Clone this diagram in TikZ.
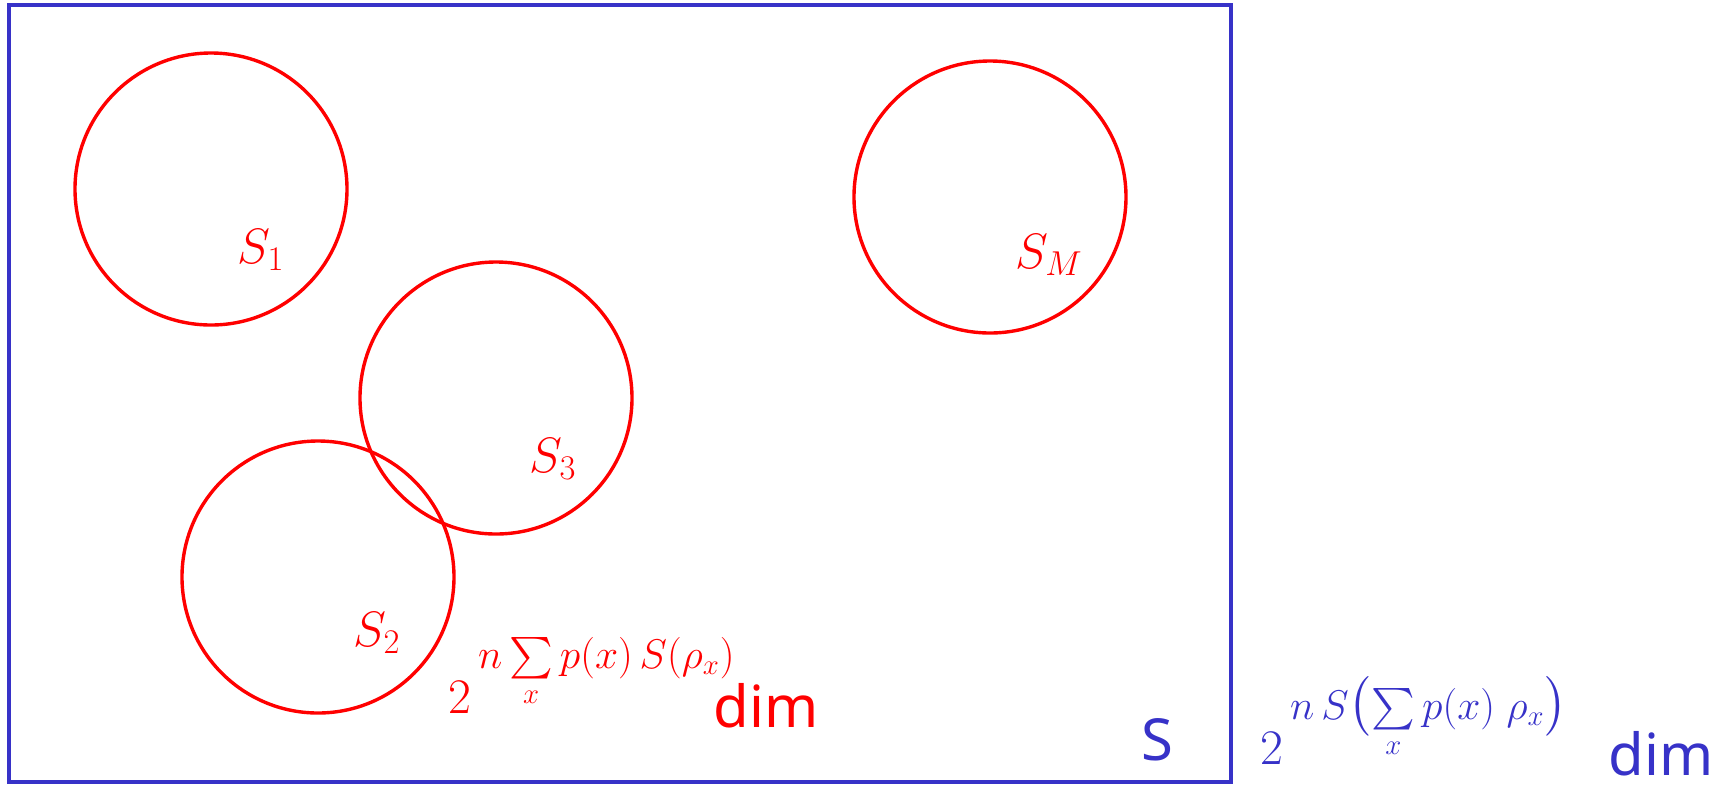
\documentclass[tikz,border=0pt]{standalone}
\usepackage{amsmath}
\usepackage{fontspec}
\setsansfont{Noto Sans}
\usetikzlibrary{positioning}
\definecolor{setred}{RGB}{255,0,0}
\definecolor{setblue}{RGB}{55,50,200}

\begin{document}
\begin{tikzpicture}[x=0.5pt,y=-0.5pt,
    subset/.style={draw=setred,line width=1.7pt,circle,inner sep=0pt,minimum size=136pt},
    setlabel/.style={text=setred,font=\fontsize{26}{30}\selectfont},
    word/.style={font=\sffamily\fontsize{29}{34}\selectfont,inner sep=0pt},
    dimexp/.style={font=\fontsize{29}{34}\selectfont,inner sep=0pt}]
  \useasboundingbox (0,0) rectangle (1721,784);
  % the whole space
  \draw[setblue,line width=1.8pt] (9,5) rectangle (1231,782);
  % typical subspaces
  \node[subset] (sone) at (211,189) {};
  \node[subset] (sthree) at (496,398) {};
  \node[subset] (stwo) at (318,577) {};
  \node[subset] (sm) at (990,197) {};
  \node[setlabel] (lone) at (261,250) {$S_1$};
  \node[setlabel] (lthree) at (553,459) {$S_3$};
  \node[setlabel] (ltwo) at (377,633) {$S_2$};
  \node[setlabel] (lm) at (1049,255) {$S_M$};
  % dimensions
  \node[dimexp,text=setred,anchor=base west] (reddim) at (448,713)
    {$2^{\,n\sum\limits_x p(x)\,S(\rho_x)}$};
  \node[word,text=setred,anchor=base west] (redword) at (713,727) {dim};
  \node[word,text=setblue,anchor=base west] (spacename) at (1141,760) {S};
  \node[dimexp,text=setblue,anchor=base west] (bluedim) at (1260,764)
    {$2^{\,n\,S\bigl(\sum\limits_x p(x)\;\rho_x\bigr)}$};
  \node[word,text=setblue,anchor=base west] (blueword) at (1608,775) {dim};
\end{tikzpicture}
\end{document}
